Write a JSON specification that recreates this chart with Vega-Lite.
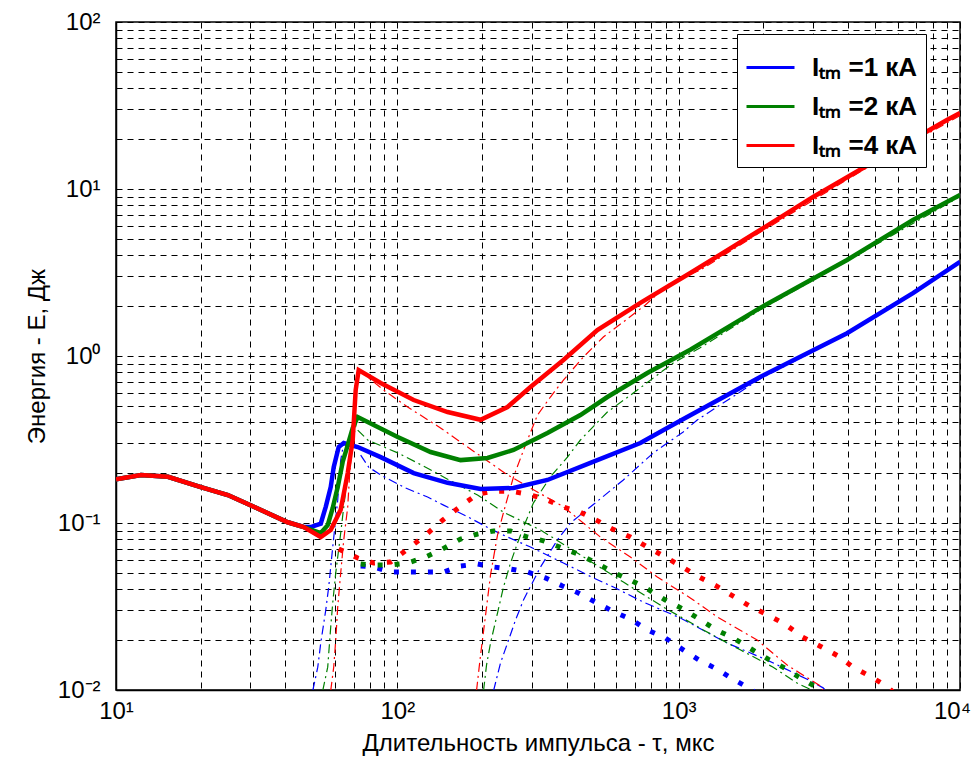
{
  "$schema": "https://vega.github.io/schema/vega-lite/v6.json",
  "width": 844,
  "height": 668,
  "autosize": "none",
  "padding": {"left": 116, "top": 22, "right": 17, "bottom": 81},
  "background": "white",
  "config": {
    "view": {"stroke": "black", "strokeWidth": 1.5},
    "axis": {
      "grid": true,
      "gridColor": "black",
      "gridDash": [6, 5],
      "gridWidth": 1,
      "gridOpacity": 1,
      "domain": true,
      "domainColor": "black",
      "domainWidth": 1.5,
      "ticks": false,
      "labelFont": "Liberation Sans",
      "labelFontSize": 24,
      "labelColor": "black",
      "labelOverlap": false,
      "labelFlush": false,
      "titleFont": "Liberation Sans",
      "titleFontSize": 24,
      "titleFontWeight": "normal",
      "titleColor": "black"
    }
  },
  "datasets": {
    "total": [
      {"c": "1", "t": 10, "e": 0.183}, {"c": "1", "t": 12.27, "e": 0.194}, {"c": "1", "t": 15.3, "e": 0.189}, {"c": "1", "t": 20.03, "e": 0.164}, {"c": "1", "t": 24.98, "e": 0.147}, {"c": "1", "t": 30.9, "e": 0.125}, {"c": "1", "t": 40.79, "e": 0.101}, {"c": "1", "t": 46.5, "e": 0.0946},
      {"c": "1", "t": 49.23, "e": 0.0946}, {"c": "1", "t": 53.43, "e": 0.099}, {"c": "1", "t": 55.66, "e": 0.125}, {"c": "1", "t": 57.97, "e": 0.164}, {"c": "1", "t": 59.41, "e": 0.216}, {"c": "1", "t": 61.89, "e": 0.285}, {"c": "1", "t": 64.49, "e": 0.301}, {"c": "1", "t": 72.3, "e": 0.285}, {"c": "1", "t": 87.25, "e": 0.248}, {"c": "1", "t": 114.3, "e": 0.199}, {"c": "1", "t": 150.9, "e": 0.174}, {"c": "1", "t": 197.6, "e": 0.16}, {"c": "1", "t": 258.8, "e": 0.162}, {"c": "1", "t": 341.6, "e": 0.181}, {"c": "1", "t": 485.6, "e": 0.229}, {"c": "1", "t": 730.8, "e": 0.301}, {"c": "1", "t": 1013, "e": 0.41}, {"c": "1", "t": 1949, "e": 0.749}, {"c": "1", "t": 3967, "e": 1.37}, {"c": "1", "t": 6805, "e": 2.38}, {"c": "1", "t": 10000, "e": 3.66},
      {"c": "2", "t": 10, "e": 0.183}, {"c": "2", "t": 12.27, "e": 0.194}, {"c": "2", "t": 15.3, "e": 0.189}, {"c": "2", "t": 20.03, "e": 0.164}, {"c": "2", "t": 24.98, "e": 0.147}, {"c": "2", "t": 30.9, "e": 0.125}, {"c": "2", "t": 40.79, "e": 0.101}, {"c": "2", "t": 46.5, "e": 0.0946},
      {"c": "2", "t": 53.43, "e": 0.0871}, {"c": "2", "t": 56.56, "e": 0.097}, {"c": "2", "t": 58.93, "e": 0.123}, {"c": "2", "t": 61.39, "e": 0.164}, {"c": "2", "t": 63.93, "e": 0.232}, {"c": "2", "t": 66.63, "e": 0.293}, {"c": "2", "t": 69.4, "e": 0.371}, {"c": "2", "t": 72.3, "e": 0.431}, {"c": "2", "t": 100.3, "e": 0.327}, {"c": "2", "t": 131.3, "e": 0.266}, {"c": "2", "t": 167.8, "e": 0.238}, {"c": "2", "t": 209.2, "e": 0.245}, {"c": "2", "t": 258.8, "e": 0.274}, {"c": "2", "t": 341.6, "e": 0.346}, {"c": "2", "t": 447.4, "e": 0.443}, {"c": "2", "t": 557.9, "e": 0.568}, {"c": "2", "t": 773.8, "e": 0.791}, {"c": "2", "t": 1100, "e": 1.09}, {"c": "2", "t": 1949, "e": 1.94}, {"c": "2", "t": 3967, "e": 3.76}, {"c": "2", "t": 6805, "e": 6.52}, {"c": "2", "t": 10000, "e": 9.21},
      {"c": "4", "t": 10, "e": 0.183}, {"c": "4", "t": 12.27, "e": 0.194}, {"c": "4", "t": 15.3, "e": 0.189}, {"c": "4", "t": 20.03, "e": 0.164}, {"c": "4", "t": 24.98, "e": 0.147}, {"c": "4", "t": 30.9, "e": 0.125}, {"c": "4", "t": 40.79, "e": 0.101}, {"c": "4", "t": 46.5, "e": 0.0946},
      {"c": "4", "t": 53.43, "e": 0.0824}, {"c": "4", "t": 57.97, "e": 0.0908}, {"c": "4", "t": 62.91, "e": 0.12}, {"c": "4", "t": 66.63, "e": 0.199}, {"c": "4", "t": 69.4, "e": 0.314}, {"c": "4", "t": 71.12, "e": 0.626}, {"c": "4", "t": 72.88, "e": 0.824}, {"c": "4", "t": 87.25, "e": 0.689}, {"c": "4", "t": 114.3, "e": 0.545}, {"c": "4", "t": 150.9, "e": 0.462}, {"c": "4", "t": 197.6, "e": 0.415}, {"c": "4", "t": 246.4, "e": 0.495}, {"c": "4", "t": 297.4, "e": 0.652}, {"c": "4", "t": 389.4, "e": 0.946}, {"c": "4", "t": 514.1, "e": 1.43}, {"c": "4", "t": 730.8, "e": 2.08}, {"c": "4", "t": 1100, "e": 3.14}, {"c": "4", "t": 1949, "e": 5.68}, {"c": "4", "t": 3005, "e": 8.96}, {"c": "4", "t": 4522, "e": 13.36}, {"c": "4", "t": 8985, "e": 25.89}, {"c": "4", "t": 10000, "e": 28.5}
    ],
    "comp": [
      {"c": "1", "g": "A", "t": 50.05, "e": 0.0099}, {"c": "1", "g": "A", "t": 52.14, "e": 0.0137}, {"c": "1", "g": "A", "t": 53.43, "e": 0.0191}, {"c": "1", "g": "A", "t": 55.66, "e": 0.0301}, {"c": "1", "g": "A", "t": 57.03, "e": 0.0414}, {"c": "1", "g": "A", "t": 58.93, "e": 0.0718}, {"c": "1", "g": "A", "t": 61.39, "e": 0.137}, {"c": "1", "g": "A", "t": 62.91, "e": 0.238}, {"c": "1", "g": "A", "t": 64.49, "e": 0.301},
      {"c": "1", "g": "B", "t": 74.08, "e": 0.255}, {"c": "1", "g": "B", "t": 79.08, "e": 0.216}, {"c": "1", "g": "B", "t": 87.25, "e": 0.194}, {"c": "1", "g": "B", "t": 107, "e": 0.162}, {"c": "1", "g": "B", "t": 128.1, "e": 0.143}, {"c": "1", "g": "B", "t": 146, "e": 0.128}, {"c": "1", "g": "B", "t": 177.7, "e": 0.109}, {"c": "1", "g": "B", "t": 214.4, "e": 0.0921}, {"c": "1", "g": "B", "t": 246.4, "e": 0.0824}, {"c": "1", "g": "B", "t": 297.4, "e": 0.0718}, {"c": "1", "g": "B", "t": 389.4, "e": 0.0576}, {"c": "1", "g": "B", "t": 497.6, "e": 0.0469}, {"c": "1", "g": "B", "t": 586, "e": 0.0414}, {"c": "1", "g": "B", "t": 748.9, "e": 0.0336}, {"c": "1", "g": "B", "t": 1013, "e": 0.027}, {"c": "1", "g": "B", "t": 1488, "e": 0.0191}, {"c": "1", "g": "B", "t": 2063, "e": 0.0151}, {"c": "1", "g": "B", "t": 2862, "e": 0.0116}, {"c": "1", "g": "B", "t": 3262, "e": 0.0103}, {"c": "1", "g": "B", "t": 3340, "e": 0.0099},
      {"c": "1", "g": "C", "t": 219.8, "e": 0.0099}, {"c": "1", "g": "C", "t": 227, "e": 0.0123}, {"c": "1", "g": "C", "t": 232.6, "e": 0.0145}, {"c": "1", "g": "C", "t": 246.4, "e": 0.0191}, {"c": "1", "g": "C", "t": 263, "e": 0.0262}, {"c": "1", "g": "C", "t": 280.8, "e": 0.0346}, {"c": "1", "g": "C", "t": 322.7, "e": 0.0545}, {"c": "1", "g": "C", "t": 370.7, "e": 0.0791}, {"c": "1", "g": "C", "t": 412.4, "e": 0.1}, {"c": "1", "g": "C", "t": 514.1, "e": 0.135}, {"c": "1", "g": "C", "t": 635.9, "e": 0.181}, {"c": "1", "g": "C", "t": 812.7, "e": 0.263}, {"c": "1", "g": "C", "t": 1038, "e": 0.351}, {"c": "1", "g": "C", "t": 1164, "e": 0.414}, {"c": "1", "g": "C", "t": 1949, "e": 0.73}, {"c": "1", "g": "C", "t": 3967, "e": 1.35}, {"c": "1", "g": "C", "t": 6805, "e": 2.35}, {"c": "1", "g": "C", "t": 10000, "e": 3.6},
      {"c": "2", "g": "A", "t": 54.3, "e": 0.0099}, {"c": "2", "g": "A", "t": 56.56, "e": 0.0137}, {"c": "2", "g": "A", "t": 57.97, "e": 0.0238}, {"c": "2", "g": "A", "t": 58.93, "e": 0.0332}, {"c": "2", "g": "A", "t": 60.4, "e": 0.0502}, {"c": "2", "g": "A", "t": 62.91, "e": 0.0871}, {"c": "2", "g": "A", "t": 65.55, "e": 0.158}, {"c": "2", "g": "A", "t": 68.28, "e": 0.274}, {"c": "2", "g": "A", "t": 72.3, "e": 0.431},
      {"c": "2", "g": "B", "t": 72.3, "e": 0.36}, {"c": "2", "g": "B", "t": 78.45, "e": 0.314}, {"c": "2", "g": "B", "t": 100.3, "e": 0.263}, {"c": "2", "g": "B", "t": 128.1, "e": 0.213}, {"c": "2", "g": "B", "t": 150.9, "e": 0.183}, {"c": "2", "g": "B", "t": 192.8, "e": 0.147}, {"c": "2", "g": "B", "t": 238.5, "e": 0.116}, {"c": "2", "g": "B", "t": 322.7, "e": 0.0908}, {"c": "2", "g": "B", "t": 436.5, "e": 0.0661}, {"c": "2", "g": "B", "t": 635.9, "e": 0.0443}, {"c": "2", "g": "B", "t": 881.7, "e": 0.0314}, {"c": "2", "g": "B", "t": 1223, "e": 0.0229}, {"c": "2", "g": "B", "t": 1655, "e": 0.0174}, {"c": "2", "g": "B", "t": 2167, "e": 0.0137}, {"c": "2", "g": "B", "t": 2636, "e": 0.011}, {"c": "2", "g": "B", "t": 3005, "e": 0.0099},
      {"c": "2", "g": "C", "t": 202.5, "e": 0.0099}, {"c": "2", "g": "C", "t": 207.5, "e": 0.0141}, {"c": "2", "g": "C", "t": 214.4, "e": 0.0191}, {"c": "2", "g": "C", "t": 227, "e": 0.0289}, {"c": "2", "g": "C", "t": 238.5, "e": 0.0414}, {"c": "2", "g": "C", "t": 252.5, "e": 0.0576}, {"c": "2", "g": "C", "t": 267.4, "e": 0.0759}, {"c": "2", "g": "C", "t": 285.4, "e": 0.101}, {"c": "2", "g": "C", "t": 304.7, "e": 0.132}, {"c": "2", "g": "C", "t": 350.1, "e": 0.189}, {"c": "2", "g": "C", "t": 402.3, "e": 0.248}, {"c": "2", "g": "C", "t": 447.4, "e": 0.314}, {"c": "2", "g": "C", "t": 557.9, "e": 0.462}, {"c": "2", "g": "C", "t": 690.1, "e": 0.6}, {"c": "2", "g": "C", "t": 956.7, "e": 0.908}, {"c": "2", "g": "C", "t": 1193, "e": 1.12}, {"c": "2", "g": "C", "t": 1949, "e": 1.89}, {"c": "2", "g": "C", "t": 3967, "e": 3.7}, {"c": "2", "g": "C", "t": 10000, "e": 9.0},
      {"c": "4", "g": "A", "t": 57.97, "e": 0.0099}, {"c": "4", "g": "A", "t": 59.41, "e": 0.0137}, {"c": "4", "g": "A", "t": 60.4, "e": 0.0199}, {"c": "4", "g": "A", "t": 61.39, "e": 0.0314}, {"c": "4", "g": "A", "t": 62.91, "e": 0.0502}, {"c": "4", "g": "A", "t": 64.49, "e": 0.0791}, {"c": "4", "g": "A", "t": 66.63, "e": 0.125}, {"c": "4", "g": "A", "t": 67.72, "e": 0.199}, {"c": "4", "g": "A", "t": 69.4, "e": 0.314}, {"c": "4", "g": "A", "t": 71.12, "e": 0.545}, {"c": "4", "g": "A", "t": 72.88, "e": 0.824},
      {"c": "4", "g": "B", "t": 72.88, "e": 0.824}, {"c": "4", "g": "B", "t": 89.43, "e": 0.626}, {"c": "4", "g": "B", "t": 100.3, "e": 0.545}, {"c": "4", "g": "B", "t": 108.8, "e": 0.495}, {"c": "4", "g": "B", "t": 142.4, "e": 0.371}, {"c": "4", "g": "B", "t": 163.7, "e": 0.314}, {"c": "4", "g": "B", "t": 246.4, "e": 0.194}, {"c": "4", "g": "B", "t": 297.4, "e": 0.162}, {"c": "4", "g": "B", "t": 389.4, "e": 0.125}, {"c": "4", "g": "B", "t": 526.9, "e": 0.0824}, {"c": "4", "g": "B", "t": 673.4, "e": 0.0626}, {"c": "4", "g": "B", "t": 839.5, "e": 0.0475}, {"c": "4", "g": "B", "t": 1100, "e": 0.0356}, {"c": "4", "g": "B", "t": 1371, "e": 0.0274}, {"c": "4", "g": "B", "t": 1901, "e": 0.0199}, {"c": "4", "g": "B", "t": 2430, "e": 0.0141}, {"c": "4", "g": "B", "t": 3183, "e": 0.0106}, {"c": "4", "g": "B", "t": 3262, "e": 0.0099},
      {"c": "4", "g": "C", "t": 191.2, "e": 0.0099}, {"c": "4", "g": "C", "t": 197.6, "e": 0.0162}, {"c": "4", "g": "C", "t": 205.9, "e": 0.0281}, {"c": "4", "g": "C", "t": 214.4, "e": 0.0489}, {"c": "4", "g": "C", "t": 227, "e": 0.0847}, {"c": "4", "g": "C", "t": 242.4, "e": 0.128}, {"c": "4", "g": "C", "t": 258.8, "e": 0.189}, {"c": "4", "g": "C", "t": 285.4, "e": 0.293}, {"c": "4", "g": "C", "t": 314.8, "e": 0.443}, {"c": "4", "g": "C", "t": 350.1, "e": 0.568}, {"c": "4", "g": "C", "t": 389.4, "e": 0.718}, {"c": "4", "g": "C", "t": 458.5, "e": 0.986}, {"c": "4", "g": "C", "t": 539.9, "e": 1.3}, {"c": "4", "g": "C", "t": 635.9, "e": 1.6}, {"c": "4", "g": "C", "t": 761.3, "e": 2.02}, {"c": "4", "g": "C", "t": 911, "e": 2.66}, {"c": "4", "g": "C", "t": 1193, "e": 3.27}, {"c": "4", "g": "C", "t": 1949, "e": 5.5}, {"c": "4", "g": "C", "t": 4522, "e": 13.0}, {"c": "4", "g": "C", "t": 10000, "e": 27.5}
    ],
    "dots": [
      {"c": "1", "t": 74.08, "e": 0.0553}, {"c": "1", "t": 82.39, "e": 0.0545}, {"c": "1", "t": 94.67, "e": 0.0509}, {"c": "1", "t": 108.8, "e": 0.0509}, {"c": "1", "t": 125, "e": 0.0509}, {"c": "1", "t": 146, "e": 0.0509}, {"c": "1", "t": 167.8, "e": 0.0553}, {"c": "1", "t": 192.8, "e": 0.0568}, {"c": "1", "t": 219.8, "e": 0.0545}, {"c": "1", "t": 252.5, "e": 0.053}, {"c": "1", "t": 290.1, "e": 0.0509}, {"c": "1", "t": 336.1, "e": 0.0469}, {"c": "1", "t": 386.2, "e": 0.042}, {"c": "1", "t": 440.1, "e": 0.0381}, {"c": "1", "t": 505.8, "e": 0.0336}, {"c": "1", "t": 581.2, "e": 0.0297}, {"c": "1", "t": 673.4, "e": 0.0266}, {"c": "1", "t": 773.8, "e": 0.0229}, {"c": "1", "t": 896.2, "e": 0.0205}, {"c": "1", "t": 1038, "e": 0.0174}, {"c": "1", "t": 1183, "e": 0.0151}, {"c": "1", "t": 1360, "e": 0.0134}, {"c": "1", "t": 1562, "e": 0.0116}, {"c": "1", "t": 1810, "e": 0.0101}, {"c": "1", "t": 1850, "e": 0.0098},
      {"c": "2", "t": 74.08, "e": 0.0568}, {"c": "2", "t": 82.39, "e": 0.056}, {"c": "2", "t": 94.67, "e": 0.056}, {"c": "2", "t": 108.8, "e": 0.0576}, {"c": "2", "t": 126.1, "e": 0.0626}, {"c": "2", "t": 144.8, "e": 0.0699}, {"c": "2", "t": 167.8, "e": 0.0802}, {"c": "2", "t": 192.8, "e": 0.0859}, {"c": "2", "t": 219.8, "e": 0.0896}, {"c": "2", "t": 252.5, "e": 0.0896}, {"c": "2", "t": 290.1, "e": 0.0824}, {"c": "2", "t": 333.3, "e": 0.078}, {"c": "2", "t": 386.2, "e": 0.0708}, {"c": "2", "t": 447.4, "e": 0.0643}, {"c": "2", "t": 510, "e": 0.0576}, {"c": "2", "t": 581.2, "e": 0.0509}, {"c": "2", "t": 673.4, "e": 0.0456}, {"c": "2", "t": 773.8, "e": 0.0403}, {"c": "2", "t": 896.2, "e": 0.0346}, {"c": "2", "t": 1038, "e": 0.0305}, {"c": "2", "t": 1183, "e": 0.0266}, {"c": "2", "t": 1360, "e": 0.0229}, {"c": "2", "t": 1562, "e": 0.0205}, {"c": "2", "t": 1810, "e": 0.0176}, {"c": "2", "t": 2080, "e": 0.0153}, {"c": "2", "t": 2410, "e": 0.0134}, {"c": "2", "t": 2748, "e": 0.0116}, {"c": "2", "t": 3183, "e": 0.0101}, {"c": "2", "t": 3250, "e": 0.0098},
      {"c": "4", "t": 61.89, "e": 0.0699}, {"c": "4", "t": 72.3, "e": 0.0617}, {"c": "4", "t": 82.39, "e": 0.0576}, {"c": "4", "t": 94.67, "e": 0.0584}, {"c": "4", "t": 108.8, "e": 0.0699}, {"c": "4", "t": 125, "e": 0.0836}, {"c": "4", "t": 144.8, "e": 0.104}, {"c": "4", "t": 167.8, "e": 0.126}, {"c": "4", "t": 192.8, "e": 0.149}, {"c": "4", "t": 219.8, "e": 0.155}, {"c": "4", "t": 252.5, "e": 0.155}, {"c": "4", "t": 290.1, "e": 0.149}, {"c": "4", "t": 336.1, "e": 0.139}, {"c": "4", "t": 386.2, "e": 0.125}, {"c": "4", "t": 447.4, "e": 0.116}, {"c": "4", "t": 510, "e": 0.104}, {"c": "4", "t": 581.2, "e": 0.0921}, {"c": "4", "t": 673.4, "e": 0.0824}, {"c": "4", "t": 773.8, "e": 0.0718}, {"c": "4", "t": 896.2, "e": 0.0626}, {"c": "4", "t": 1030, "e": 0.0545}, {"c": "4", "t": 1183, "e": 0.0475}, {"c": "4", "t": 1360, "e": 0.042}, {"c": "4", "t": 1562, "e": 0.0365}, {"c": "4", "t": 1810, "e": 0.0314}, {"c": "4", "t": 2080, "e": 0.0281}, {"c": "4", "t": 2410, "e": 0.0245}, {"c": "4", "t": 2748, "e": 0.0208}, {"c": "4", "t": 3183, "e": 0.0183}, {"c": "4", "t": 3686, "e": 0.016}, {"c": "4", "t": 4168, "e": 0.0137}, {"c": "4", "t": 4829, "e": 0.012}, {"c": "4", "t": 5548, "e": 0.0104}, {"c": "4", "t": 5750, "e": 0.0098}
    ]
  },
  "encoding": {
    "x": {
      "field": "t", "type": "quantitative",
      "scale": {"type": "log", "domain": [10, 10000], "nice": false},
      "axis": {
        "title": "Длительность импульса - τ, мкс",
        "values": [10, 20, 30, 40, 50, 60, 70, 80, 90, 100, 200, 300, 400, 500, 600, 700, 800, 900, 1000, 2000, 3000, 4000, 5000, 6000, 7000, 8000, 9000, 10000],
        "labelExpr": "datum.value == 10 ? '10¹' : datum.value == 100 ? '10²' : datum.value == 1000 ? '10³' : datum.value == 10000 ? '10⁴' : ''",
        "labelOffset": {"condition": {"test": "datum.value == 10000", "value": -8}, "value": 0},
        "labelPadding": 9,
        "titlePadding": 8
      }
    },
    "y": {
      "field": "e", "type": "quantitative",
      "scale": {"type": "log", "domain": [0.01, 100], "nice": false},
      "axis": {
        "title": "Энергия - E, Дж",
        "values": [0.01, 0.02, 0.03, 0.04, 0.05, 0.06, 0.07, 0.08, 0.09, 0.1, 0.2, 0.3, 0.4, 0.5, 0.6, 0.7, 0.8, 0.9, 1, 2, 3, 4, 5, 6, 7, 8, 9, 10, 20, 30, 40, 50, 60, 70, 80, 90, 100],
        "labelExpr": "datum.value == 0.01 ? '10⁻²' : datum.value == 0.1 ? '10⁻¹' : datum.value == 1 ? '10⁰' : datum.value == 10 ? '10¹' : datum.value == 100 ? '10²' : ''",
        "labelPadding": 16,
        "titlePadding": 8
      }
    },
    "color": {
      "field": "c", "type": "nominal",
      "scale": {"domain": ["1", "2", "4"], "range": ["#0000ff", "#008000", "#ff0000"]},
      "legend": {
        "title": null,
        "orient": "none",
        "legendX": 621,
        "legendY": 12,
        "fillColor": "white",
        "strokeColor": "black",
        "padding": 8,
        "symbolType": "stroke",
        "symbolSize": 2304,
        "symbolStrokeWidth": 3,
        "symbolDash": [],
        "labelFont": "Liberation Sans",
        "labelFontSize": 26,
        "labelFontWeight": "bold",
        "labelColor": "black",
        "labelOffset": 16,
        "rowPadding": 0,
        "labelExpr": "'Iₜₘ =' + datum.label + ' кА'"
      }
    }
  },
  "layer": [
    {
      "data": {"name": "comp"},
      "mark": {"type": "line", "strokeWidth": 1.2, "strokeDash": [9, 4, 2, 4], "clip": true},
      "encoding": {"detail": {"field": "g"}}
    },
    {
      "data": {"name": "dots"},
      "mark": {"type": "line", "strokeWidth": 5, "strokeDash": [5, 12], "clip": true}
    },
    {
      "data": {"name": "total"},
      "mark": {"type": "line", "strokeWidth": 4.5, "clip": true}
    }
  ]
}
